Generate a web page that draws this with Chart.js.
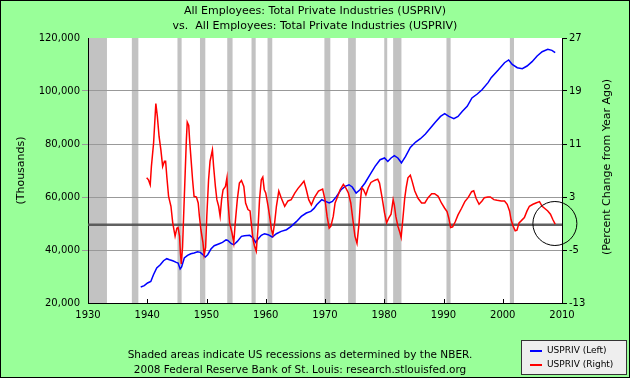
<!DOCTYPE html>
<html>
<head>
<meta charset="utf-8">
<script src="https://cdn.jsdelivr.net/npm/chart.js@4/dist/chart.umd.min.js"></script>
<style>
    html, body { margin: 0; padding: 0; }
    body { width: 630px; height: 378px; overflow: hidden; font-family: "DejaVu Sans", sans-serif; }
    #frame {
        position: relative; width: 630px; height: 378px; box-sizing: border-box;
        border: 1px solid #000; background: #99ff99;
    }
    #wrap { position: absolute; left: 0; top: 0; width: 628px; height: 376px; }
    .title { position: absolute; left: 0; width: 628px; text-align: center; font-size: 11px; color: #000; }
    .note { position: absolute; left: 0; width: 598px; text-align: center; font-size: 10.5px; color: #000; }
    #rightTitle {
        position: absolute; left: 506px; top: 159px; width: 200px; height: 14px; line-height: 14px;
        text-align: center; font-size: 11px; color: #000; transform: rotate(-90deg);
    }
    #legend {
        position: absolute; left: 520px; top: 339px; width: 106px; height: 35px;
        box-sizing: border-box; background: #eeeeee; border: 1px solid #333;
        font-size: 9px;
    }
    .item { position: absolute; left: 8px; height: 12px; line-height: 12px; white-space: nowrap; }
    .swatch { display: inline-block; width: 12px; height: 2px; vertical-align: middle; margin-right: 5px; }
</style>
</head>
<body>
<div id="frame">
    <div id="wrap"><canvas id="chart"></canvas></div>
    <div class="title" style="top:3px">All Employees: Total Private Industries (USPRIV)</div>
    <div class="title" style="top:18px">vs.&nbsp; All Employees: Total Private Industries (USPRIV)</div>
    <div id="rightTitle">(Percent Change from Year Ago)</div>
    <div class="note" style="top:347px">Shaded areas indicate US recessions as determined by the NBER.</div>
    <div class="note" style="top:362px">2008 Federal Reserve Bank of St. Louis: research.stlouisfed.org</div>
    <div id="legend">
        <div class="item" style="top:3px"><span class="swatch" style="background:#0000ff"></span>USPRIV (Left)</div>
        <div class="item" style="top:17px"><span class="swatch" style="background:#ff0000"></span>USPRIV (Right)</div>
    </div>
</div>

<script>
// ticks
const yearTicks = [1930, 1940, 1950, 1960, 1970, 1980, 1990, 2000, 2010];
const leftTicks = [20000, 40000, 60000, 80000, 100000, 120000];
const rightTicks = [-13, -5, 3, 11, 19, 27];

// NBER recessions (start, end)
const recessionStarts = [1929.6, 1937.4, 1945.1, 1948.9, 1953.5, 1957.6, 1960.3, 1969.9, 1973.9, 1980.0, 1981.5, 1990.5, 2001.2];
const recessionEnds = [1933.2, 1938.5, 1945.8, 1949.8, 1954.4, 1958.3, 1961.1, 1970.9, 1975.2, 1980.5, 1982.9, 1991.2, 2001.9];

// USPRIV level, thousands (left axis)
const blueYears = [1938.9, 1939.5, 1940.05, 1940.6, 1941.05, 1941.6, 1942.2, 1942.75, 1943.3, 1943.75,
    1944.3, 1944.9, 1945.2, 1945.55, 1945.8, 1946.25, 1946.8, 1947.35, 1947.9, 1948.5,
    1948.95, 1949.4, 1949.8, 1950.2, 1950.75, 1951.3, 1952.15, 1952.7, 1953.3, 1953.6,
    1954.2, 1954.6, 1955.2, 1955.9, 1956.4, 1957.3, 1957.85, 1958.3, 1958.7, 1959.25,
    1959.8, 1960.4, 1961.1, 1961.8, 1962.6, 1963.5, 1964.3, 1965.2, 1966.0, 1966.85,
    1967.6, 1968.15, 1968.6, 1969.45, 1970.1, 1970.7, 1971.25, 1971.95, 1972.7, 1973.4,
    1974.05, 1974.6, 1975.25, 1975.9, 1976.75, 1977.6, 1978.45, 1979.3, 1980.05, 1980.6,
    1981.15, 1981.7, 1982.3, 1982.9, 1983.6, 1984.4, 1985.3, 1986.1, 1986.95, 1987.8,
    1988.65, 1989.5, 1990.2, 1990.9, 1991.75, 1992.45, 1993.15, 1994.0, 1994.8, 1995.7,
    1996.5, 1997.55, 1998.05, 1999.2, 2000.3, 2001.0, 2001.6, 2002.45, 2003.3, 2004.1,
    2004.95, 2005.8, 2006.65, 2007.6, 2008.3, 2008.85];
const blueValues = [26040, 26530, 27550, 28150, 30680, 33200, 34450, 35960, 36720, 36340,
    35960, 35320, 35070, 32830, 33600, 36980, 37970, 38600, 38860, 39360,
    39100, 38230, 37360, 38230, 40370, 41620, 42380, 42880, 43800, 43640,
    42380, 42000, 43260, 45140, 45390, 45520, 44530, 42880, 44150, 45520,
    46150, 45770, 44900, 46150, 47020, 47660, 48910, 50790, 52680, 53960,
    54590, 55700, 57090, 58980, 58340, 57740, 58340, 60230, 62750, 64000,
    64630, 63770, 61510, 62750, 65280, 68420, 71550, 74080, 74720, 73430,
    74720, 75590, 74720, 72900, 75320, 78720, 80750, 82000, 83770, 86040,
    88300, 90420, 91430, 90420, 89550, 90420, 92300, 94190, 97360, 98870,
    100490, 103250, 105020, 107790, 110680, 111700, 110040, 108790, 108420, 109430,
    111060, 113200, 114830, 115700, 115330, 114450];

// USPRIV percent change from year ago (right axis)
const redYears = [1939.9, 1940.2, 1940.5, 1940.7, 1941.07, 1941.45, 1941.7, 1942.0, 1942.3, 1942.6,
    1942.9, 1943.1, 1943.3, 1943.6, 1944.0, 1944.3, 1944.7, 1945.0, 1945.2, 1945.45,
    1945.6, 1945.75, 1945.96, 1946.1, 1946.4, 1946.6, 1946.75, 1947.0, 1947.15, 1947.4,
    1947.65, 1947.9, 1948.3, 1948.6, 1948.8, 1949.05, 1949.4, 1949.6, 1949.85, 1950.05,
    1950.35, 1950.6, 1951.0, 1951.2, 1951.5, 1951.75, 1952.05, 1952.3, 1952.55, 1952.8,
    1953.2, 1953.45, 1953.6, 1953.9, 1954.3, 1954.6, 1954.85, 1955.2, 1955.55, 1955.9,
    1956.3, 1956.6, 1957.0, 1957.35, 1957.55, 1957.85, 1958.1, 1958.4, 1958.7, 1958.95,
    1959.25, 1959.5, 1959.75, 1960.0, 1960.4, 1960.65, 1960.95, 1961.2, 1961.5, 1961.8,
    1962.2, 1962.6, 1963.2, 1963.75, 1964.3, 1964.9, 1965.45, 1966.0, 1966.45, 1966.85,
    1967.25, 1967.7, 1968.2, 1968.9, 1969.6, 1970.0, 1970.35, 1970.7, 1971.0, 1971.4,
    1971.7, 1972.15, 1972.55, 1973.1, 1973.55, 1973.95, 1974.35, 1974.7, 1975.05, 1975.4,
    1975.75, 1976.0, 1976.2, 1976.5, 1976.9, 1977.3, 1977.75, 1978.35, 1978.9, 1979.2,
    1979.6, 1980.05, 1980.4, 1980.8, 1981.15, 1981.5, 1981.7, 1981.95, 1982.3, 1982.65,
    1982.85, 1983.1, 1983.45, 1983.7, 1984.0, 1984.4, 1984.7, 1985.15, 1985.7, 1986.3,
    1986.85, 1987.4, 1988.0, 1988.5, 1989.1, 1989.65, 1990.2, 1990.6, 1990.9, 1991.2,
    1991.55, 1992.0, 1992.45, 1993.05, 1993.6, 1994.15, 1994.75, 1995.1, 1995.5, 1996.0,
    1996.5, 1996.9, 1997.5, 1997.9, 1998.5, 1999.05, 1999.75, 2000.3, 2000.75, 2001.15,
    2001.4, 2001.75, 2002.1, 2002.4, 2002.75, 2003.1, 2003.65, 2004.1, 2004.5, 2005.1,
    2005.6, 2006.2, 2006.65, 2007.05, 2007.6, 2008.05, 2008.45, 2008.85];
const redValues = [5.9, 5.6, 4.85, 7.6, 11.15, 17.1, 15.2, 12.1, 10.1, 7.6,
    8.4, 8.4, 6.1, 3.1, 1.6, -0.9, -2.9, -1.7, -1.6, -2.9,
    -5.5, -7.1, -4.5, -0.9, 6.6, 11.6, 14.3, 13.8, 11.6, 8.6,
    5.6, 3.1, 3.0, 2.1, 0.1, -1.9, -3.9, -5.7, -4.6, 0.1,
    5.6, 8.4, 10.1, 7.6, 4.6, 2.6, 1.6, 0.1, 2.6, 4.1,
    4.6, 5.9, 2.6, -0.9, -2.4, -3.9, -0.9, 2.6, 5.1, 5.5,
    4.6, 2.1, 1.1, 0.9, -0.9, -3.4, -4.4, -5.2, -1.6, 2.6,
    5.6, 6.0, 4.1, 3.6, 1.6, 0.1, -1.9, -2.7, -0.9, 1.6,
    3.9, 2.9, 1.6, 2.4, 2.6, 3.6, 4.3, 4.9, 5.4, 4.1,
    2.6, 1.8, 2.9, 3.9, 4.2, 2.6, 0.1, -1.7, -1.4, 0.1,
    2.1, 3.1, 4.1, 4.9, 4.3, 3.6, 2.1, -0.4, -2.9, -4.0,
    -0.9, 2.6, 4.4, 4.1, 3.3, 4.4, 5.2, 5.5, 5.7, 5.1,
    3.1, 0.6, -0.9, -0.1, 0.4, 2.6, 1.8, 0.1, -1.4, -2.4,
    -3.1, -0.7, 2.8, 4.4, 5.9, 6.3, 5.4, 3.9, 2.8, 2.1,
    2.1, 2.9, 3.5, 3.5, 3.1, 2.1, 1.3, 0.8, -0.2, -1.6,
    -1.5, -0.7, 0.3, 1.3, 2.3, 2.9, 3.8, 3.95, 2.8, 1.9,
    2.4, 2.9, 3.0, 3.0, 2.6, 2.5, 2.4, 2.4, 1.9, 0.9,
    -0.4, -1.4, -2.1, -2.0, -0.9, -0.6, -0.1, 0.9, 1.6, 1.9,
    2.1, 2.3, 1.6, 1.3, 0.9, 0.4, -0.4, -1.1];

// reference line and highlight circle
const baseLineValue = -1.2;
const circleYear = 2008.8;
const circleValue = -1.0;

const toPoints = (xs, ys) => xs.map((x, i) => ({ x: x, y: ys[i] }));

const backgroundPlugin = {
    id: "background",
    beforeDraw(chart) {
        const { ctx, chartArea, scales } = chart;
        const xScale = scales.x;
        ctx.save();
        ctx.fillStyle = "#99ff99";
        ctx.fillRect(0, 0, chart.width, chart.height);
        ctx.fillStyle = "#ffffff";
        ctx.fillRect(chartArea.left, chartArea.top, chartArea.width, chartArea.height);
        ctx.fillStyle = "#c2c2c2";
        recessionStarts.forEach((start, i) => {
            const x1 = Math.max(xScale.getPixelForValue(start), chartArea.left);
            const x2 = xScale.getPixelForValue(recessionEnds[i]);
            ctx.fillRect(x1, chartArea.top, x2 - x1, chartArea.height);
        });
        ctx.restore();
    },
    afterDraw(chart) {
        // small decade ticks pointing into the plot
        const { ctx, chartArea, scales } = chart;
        ctx.save();
        ctx.strokeStyle = "#000";
        ctx.lineWidth = 1;
        yearTicks.forEach((year) => {
            const x = Math.round(scales.x.getPixelForValue(year)) + 0.5;
            ctx.beginPath();
            ctx.moveTo(x, chartArea.bottom);
            ctx.lineTo(x, chartArea.bottom - 4);
            ctx.stroke();
        });
        ctx.restore();
    },
};

new Chart(document.getElementById("chart"), {
    type: "line",
    data: {
        datasets: [
            {
                label: "baseline",
                data: [{ x: 1930, y: baseLineValue }, { x: 2010, y: baseLineValue }],
                yAxisID: "yR",
                borderColor: "rgba(80,80,80,0.9)",
                borderWidth: 2.5,
                pointRadius: 0,
                order: 3,
            },
            {
                label: "USPRIV (Left)",
                data: toPoints(blueYears, blueValues),
                yAxisID: "yL",
                borderColor: "#0000ff",
                borderWidth: 1.5,
                pointRadius: 0,
                tension: 0,
                order: 2,
            },
            {
                label: "USPRIV (Right)",
                data: toPoints(redYears, redValues),
                yAxisID: "yR",
                borderColor: "#ff0000",
                borderWidth: 1.5,
                pointRadius: 0,
                tension: 0,
                order: 1,
            },
            {
                label: "circle",
                data: [{ x: circleYear, y: circleValue }],
                yAxisID: "yR",
                showLine: false,
                pointRadius: 22,
                pointBorderWidth: 1,
                pointBorderColor: "#000",
                pointBackgroundColor: "rgba(0,0,0,0)",
                clip: false,
                order: 0,
            },
        ],
    },
    options: {
        responsive: true,
        maintainAspectRatio: false,
        animation: false,
        events: [],
        layout: { padding: { top: 37, left: 0, right: 0, bottom: 0 } },
        plugins: {
            legend: { display: false },
            tooltip: { enabled: false },
        },
        scales: {
            x: {
                type: "linear",
                min: 1930,
                max: 2010,
                afterBuildTicks: (scale) => {
                    scale.ticks = yearTicks.map((v) => ({ value: v }));
                },
                afterFit: (scale) => {
                    scale.height = 74;
                },
                ticks: {
                    callback: (value) => String(value),
                    color: "#000",
                    padding: 6,
                    maxRotation: 0,
                    font: { family: "DejaVu Sans", size: 10 },
                },
                grid: { drawOnChartArea: false, drawTicks: false, color: "#000" },
                border: { color: "#000", width: 1 },
            },
            yL: {
                type: "linear",
                position: "left",
                min: 20000,
                max: 120000,
                afterBuildTicks: (scale) => {
                    scale.ticks = leftTicks.map((v) => ({ value: v }));
                },
                afterFit: (scale) => {
                    scale.width = 87;
                },
                ticks: {
                    callback: (value) => value.toLocaleString("en-US"),
                    color: "#000",
                    padding: 2,
                    font: { family: "DejaVu Sans", size: 10 },
                },
                grid: {
                    color: (ctx) =>
                        ctx.tick && (ctx.tick.value === 20000 || ctx.tick.value === 120000)
                            ? "rgba(0,0,0,0)"
                            : "#999999",
                    tickLength: 6,
                },
                border: { color: "#000", width: 1 },
                title: {
                    display: true,
                    text: "(Thousands)",
                    color: "#000",
                    padding: { top: 14, bottom: 0 },
                    font: { family: "DejaVu Sans", size: 11 },
                },
            },
            yR: {
                type: "linear",
                position: "right",
                min: -13,
                max: 27,
                afterBuildTicks: (scale) => {
                    scale.ticks = rightTicks.map((v) => ({ value: v }));
                },
                afterFit: (scale) => {
                    scale.width = 67;
                },
                ticks: {
                    color: "#000",
                    padding: 2,
                    font: { family: "DejaVu Sans", size: 10 },
                },
                grid: { drawOnChartArea: false, color: "#000", tickLength: 5 },
                border: { color: "#000", width: 1 },
            },
        },
    },
    plugins: [backgroundPlugin],
});
</script>
</body>
</html>
